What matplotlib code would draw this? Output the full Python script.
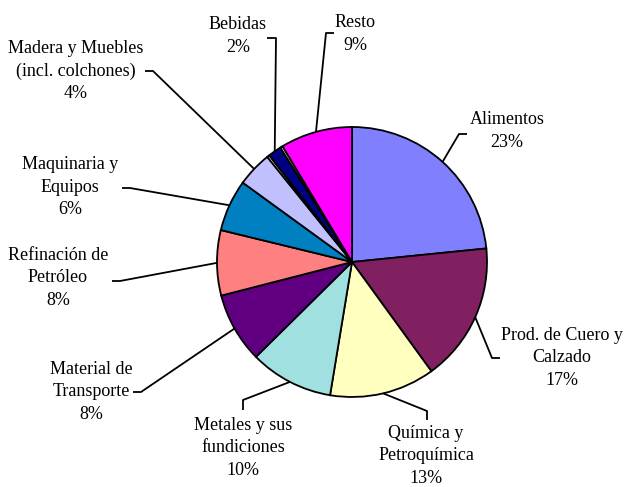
import numpy as np
import matplotlib
matplotlib.use("Agg")
import matplotlib.pyplot as plt

# ---- data ----
categories = ['Alimentos', 'Prod. de Cuero y\nCalzado', 'Química y\nPetroquímica',
              'Metales y sus\nfundiciones', 'Material de\nTransporte', 'Refinación de\nPetróleo',
              'Maquinaria y\nEquipos', 'Madera y Muebles\n(incl. colchones)', '',
              'Bebidas', '', 'Resto']
shares = [23.4, 16.6, 12.6, 10.0, 8.4, 7.8, 6.2, 4.2, 0.3, 1.6, 0.3, 8.6]
colors = ['#8080FF', '#802060', '#FFFFC0', '#A0E0E0', '#600080', '#FF8080',
          '#0080C0', '#C0C0FF', '#FFFFFF', '#000080', '#FFFFFF', '#FF00FF']

# ---- layout (pixel coordinates, y down) ----
W, H = 625, 487
cx, cy, R = 352, 262, 135
text_pos = {0: (507, 131), 1: (562, 358), 2: (426, 456), 3: (243, 448), 4: (91, 392),
            5: (58, 278), 6: (70, 187), 7: (76, 71), 9: (238, 36), 11: (355, 34)}
elbows = {0: [(467, 134), (459, 134)], 1: [(500, 358), (492, 358)],
          2: [(427, 420), (427, 411)], 3: [(243, 410), (243, 400)],
          4: [(133, 392), (141, 392)], 5: [(112, 281), (120, 281)],
          6: [(122, 188), (130, 188)], 7: [(145, 71), (153, 71)],
          9: [(267, 38), (276, 38)], 11: [(334, 33), (326, 33)]}

def Y(y):
    return H - y

fig = plt.figure(figsize=(W / 100, H / 100), dpi=100)
ax = fig.add_axes([0, 0, 1, 1])
ax.set_xlim(0, W)
ax.set_ylim(0, H)
ax.set_aspect('equal')
ax.axis('off')

wedges, _ = ax.pie(shares, colors=colors, startangle=90, counterclock=False,
                   center=(cx, Y(cy)), radius=R,
                   wedgeprops=dict(edgecolor='black', linewidth=1.3))
ax.set_xlim(0, W)
ax.set_ylim(0, H)

font = dict(family='Liberation Serif', size=13)
for i, w in enumerate(wedges):
    if i not in text_pos:
        continue
    pct = int(round(shares[i]))
    tx, ty = text_pos[i]
    ax.text(tx, Y(ty), f"{categories[i]}\n{pct}%", ha='center', va='center',
            linespacing=1.42, **font)
    mid = np.deg2rad((w.theta1 + w.theta2) / 2)
    ex = cx + R * np.cos(mid)
    ey = Y(cy) + R * np.sin(mid)
    pts = elbows[i]
    xs = [p[0] for p in pts] + [ex]
    ys = [Y(p[1]) for p in pts] + [ey]
    ax.plot(xs, ys, color='black', linewidth=1.3, solid_capstyle='butt')

fig.savefig('out.png', dpi=100)
